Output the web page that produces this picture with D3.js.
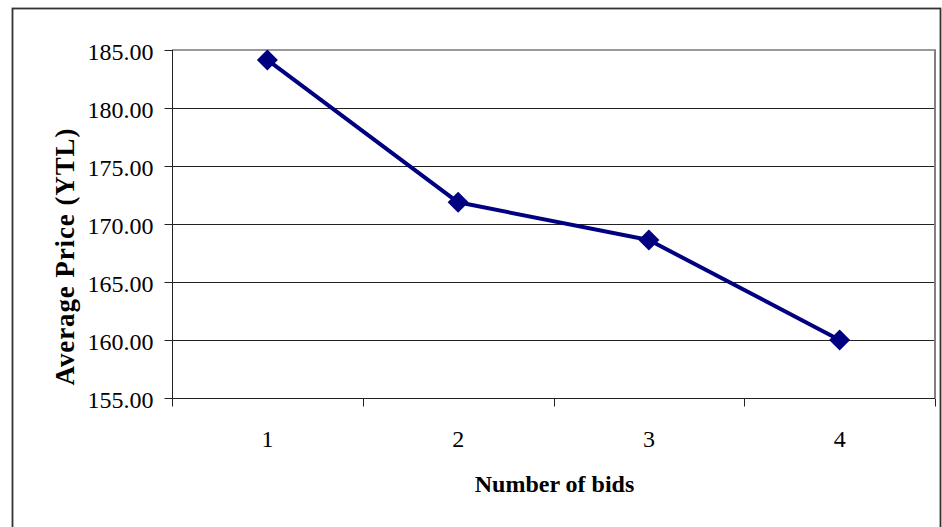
<!DOCTYPE html>
<html>
<head>
<meta charset="utf-8">
<script src="https://cdn.jsdelivr.net/npm/d3@7/dist/d3.min.js"></script>
<style>
  html, body { margin: 0; padding: 0; background: #fff; }
  svg { display: block; }
  text { font-family: "Liberation Serif", "Times New Roman", serif; fill: #000; }
</style>
</head>
<body>
<svg id="chart" width="942" height="527"></svg>
<script>
const categories = ["1", "2", "3", "4"];
const values = [184.14, 171.87, 168.62, 160.00];
const yTicks = [155, 160, 165, 170, 175, 180, 185];
const xTitle = "Number of bids";
const yTitle = "Average Price (YTL)";

(function () {
const svg = d3.select("#chart");
const pLeft = 172, pRight = 935, pTop = 50, pBottom = 398;

// outer chart border
svg.append("rect")
  .attr("x", 12.5).attr("y", 8.5)
  .attr("width", 928).attr("height", 540)
  .attr("fill", "none").attr("stroke", "#333").attr("stroke-width", 1.8);

const x = d3.scaleBand().domain(categories).range([pLeft, pRight]).padding(0);
const y = d3.scaleLinear().domain([155, 185]).range([pBottom, pTop]);

// gridlines
svg.append("g").selectAll("line")
  .data(yTicks.filter(t => t > 155 && t < 185))
  .join("line")
  .attr("x1", pLeft).attr("x2", pRight)
  .attr("y1", d => Math.round(y(d)) + 0.5).attr("y2", d => Math.round(y(d)) + 0.5)
  .attr("stroke", "#222").attr("stroke-width", 1);

// plot area border (gray) on top & right
svg.append("line")
  .attr("x1", pLeft).attr("x2", pRight + 1)
  .attr("y1", y(185)).attr("y2", y(185))
  .attr("stroke", "#999").attr("stroke-width", 2);
svg.append("line")
  .attr("x1", pRight).attr("x2", pRight)
  .attr("y1", y(185)).attr("y2", y(155))
  .attr("stroke", "#808080").attr("stroke-width", 2);

// Y axis
const yAxis = svg.append("g")
  .attr("transform", `translate(${pLeft + 0.5},0)`)
  .call(d3.axisLeft(y).tickValues(yTicks).tickFormat(d3.format(".2f")).tickSize(8).tickPadding(11));
yAxis.select(".domain").attr("stroke", "#222").attr("d", `M0,${pTop}V${pBottom + 8}`);
yAxis.selectAll(".tick line").attr("stroke", "#222");
yAxis.selectAll(".tick text")
  .attr("font-size", 24)
  .attr("font-family", "Liberation Serif, Times New Roman, serif")
  .attr("dy", "0.38em");

// X axis
const xAxis = svg.append("g")
  .attr("transform", `translate(0,${pBottom + 0.5})`)
  .call(d3.axisBottom(x).tickSize(0).tickPadding(31));
xAxis.select(".domain").attr("stroke", "#222").attr("d", `M${pLeft},0H${pRight}`);
xAxis.selectAll(".tick text")
  .attr("font-size", 24)
  .attr("font-family", "Liberation Serif, Times New Roman, serif");
// category boundary ticks
const bounds = categories.map(c => x(c)).concat([x(categories[categories.length - 1]) + x.bandwidth()]);
xAxis.selectAll("line.bound").data(bounds).join("line")
  .attr("class", "bound")
  .attr("x1", d => Math.round(d) + 0.5).attr("x2", d => Math.round(d) + 0.5)
  .attr("y1", 0).attr("y2", 8)
  .attr("stroke", "#222");

// line series
const cx = c => x(c) + x.bandwidth() / 2;
const line = d3.line().x((d, i) => cx(categories[i])).y(d => y(d));
svg.append("path")
  .datum(values)
  .attr("d", line)
  .attr("fill", "none")
  .attr("stroke", "#000080")
  .attr("stroke-width", 4)
  .attr("stroke-linejoin", "round");

// diamond markers
svg.append("g").selectAll("path")
  .data(values)
  .join("path")
  .attr("transform", (d, i) => `translate(${cx(categories[i])},${y(d)})`)
  .attr("d", "M0,-10.5L10.5,0L0,10.5L-10.5,0Z")
  .attr("fill", "#000080");

// axis titles
svg.append("text")
  .attr("x", (pLeft + pRight) / 2 + 1).attr("y", 492)
  .attr("text-anchor", "middle")
  .attr("font-size", 24).attr("font-weight", "bold")
  .text(xTitle);

svg.append("text")
  .attr("transform", `translate(74,${(pTop + pBottom) / 2 + 33}) rotate(-90)`)
  .attr("text-anchor", "middle")
  .attr("font-size", 27).attr("font-weight", "bold")
  .attr("textLength", 257)
  .attr("lengthAdjust", "spacing")
  .text(yTitle);
})();
</script>
</body>
</html>
